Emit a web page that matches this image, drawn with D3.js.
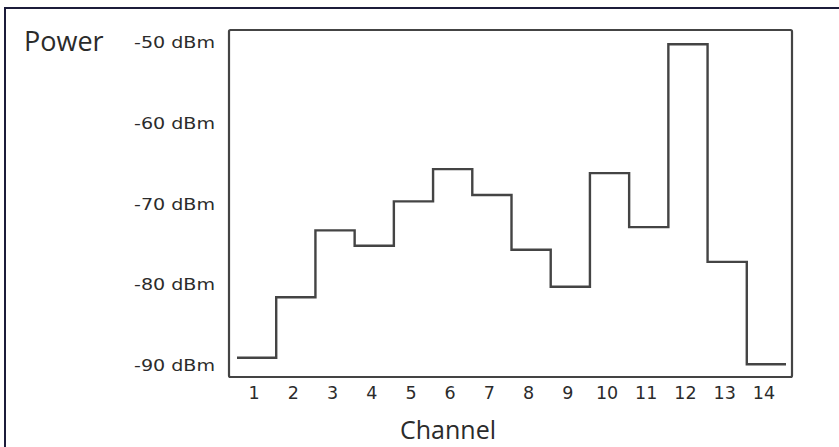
<!DOCTYPE html>
<html>
<head>
<meta charset="utf-8">
<script src="https://cdn.jsdelivr.net/npm/d3@7"></script>
<style>
  body { margin: 0; background: #fff; }
  text { fill: #2b2b2b; }
</style>
</head>
<body>
<svg width="839" height="447"></svg>
<script>
// channel numbers and power readings (dBm) per channel
var channels = [1, 2, 3, 4, 5, 6, 7, 8, 9, 10, 11, 12, 13, 14];
var power = [-89.1, -81.6, -73.3, -75.2, -69.7, -65.7, -68.9, -75.7, -80.3, -66.2, -72.9, -50.2, -77.2, -89.9];
var yTicks = [-50, -60, -70, -80, -90];

var svg = d3.select("svg");

// page edge lines (top and left)
svg.append("line").attr("x1", 4).attr("x2", 839).attr("y1", 8).attr("y2", 8)
    .attr("stroke", "#1c1c3a").attr("stroke-width", 2);
svg.append("line").attr("x1", 5).attr("x2", 5).attr("y1", 8).attr("y2", 447)
    .attr("stroke", "#1c1c3a").attr("stroke-width", 2);

var frame = {left: 229, top: 30, right: 792, bottom: 377};

var xScale = d3.scaleLinear().domain([0.5, 14.5]).range([237, 786]);
var yScale = d3.scaleLinear().domain([-90, -50]).range([365, 42.6]);

// plot frame
svg.append("rect")
    .attr("x", frame.left).attr("y", frame.top)
    .attr("width", frame.right - frame.left)
    .attr("height", frame.bottom - frame.top)
    .attr("rx", 1.5)
    .attr("fill", "none")
    .attr("stroke", "#444")
    .attr("stroke-width", 2.2);

// step line
var pts = channels.map(function(c, i) { return [c - 0.5, power[i]]; });
pts.push([channels[channels.length - 1] + 0.5, power[power.length - 1]]);

var line = d3.line()
    .curve(d3.curveStepAfter)
    .x(function(d) { return xScale(d[0]); })
    .y(function(d) { return yScale(d[1]); });

svg.append("path")
    .datum(pts)
    .attr("d", line)
    .attr("fill", "none")
    .attr("stroke", "#444")
    .attr("stroke-width", 2.4)
    .attr("stroke-linejoin", "miter");

// y axis labels
var yAxis = d3.axisLeft(yScale)
    .tickValues(yTicks)
    .tickSize(0)
    .tickPadding(0)
    .tickFormat(function(d) { return d + " dBm"; });

var gy = svg.append("g")
    .attr("transform", "translate(215,0)")
    .call(yAxis);
gy.select(".domain").remove();
gy.selectAll("text")
    .attr("font-family", "DejaVu Sans, sans-serif")
    .attr("font-size", 16.5)
    .attr("textLength", 81)
    .attr("lengthAdjust", "spacingAndGlyphs")
    .attr("fill", "#2b2b2b");

// x axis labels
var xAxis = d3.axisBottom(xScale)
    .tickValues(channels)
    .tickSize(0)
    .tickPadding(0)
    .tickFormat(d3.format("d"));

var gx = svg.append("g")
    .attr("transform", "translate(-3,387)")
    .call(xAxis);
gx.select(".domain").remove();
gx.selectAll("text")
    .attr("font-family", "DejaVu Sans, sans-serif")
    .attr("font-size", 17.5)
    .attr("fill", "#2b2b2b");

// titles
svg.append("text")
    .attr("x", 24).attr("y", 51)
    .attr("font-family", "Open Sans, sans-serif")
    .attr("font-size", 27)
    .attr("fill", "#2b2b2b")
    .text("Power");

svg.append("text")
    .attr("x", 448).attr("y", 439)
    .attr("text-anchor", "middle")
    .attr("font-family", "Open Sans, sans-serif")
    .attr("font-size", 25)
    .attr("fill", "#2b2b2b")
    .text("Channel");
</script>
</body>
</html>
